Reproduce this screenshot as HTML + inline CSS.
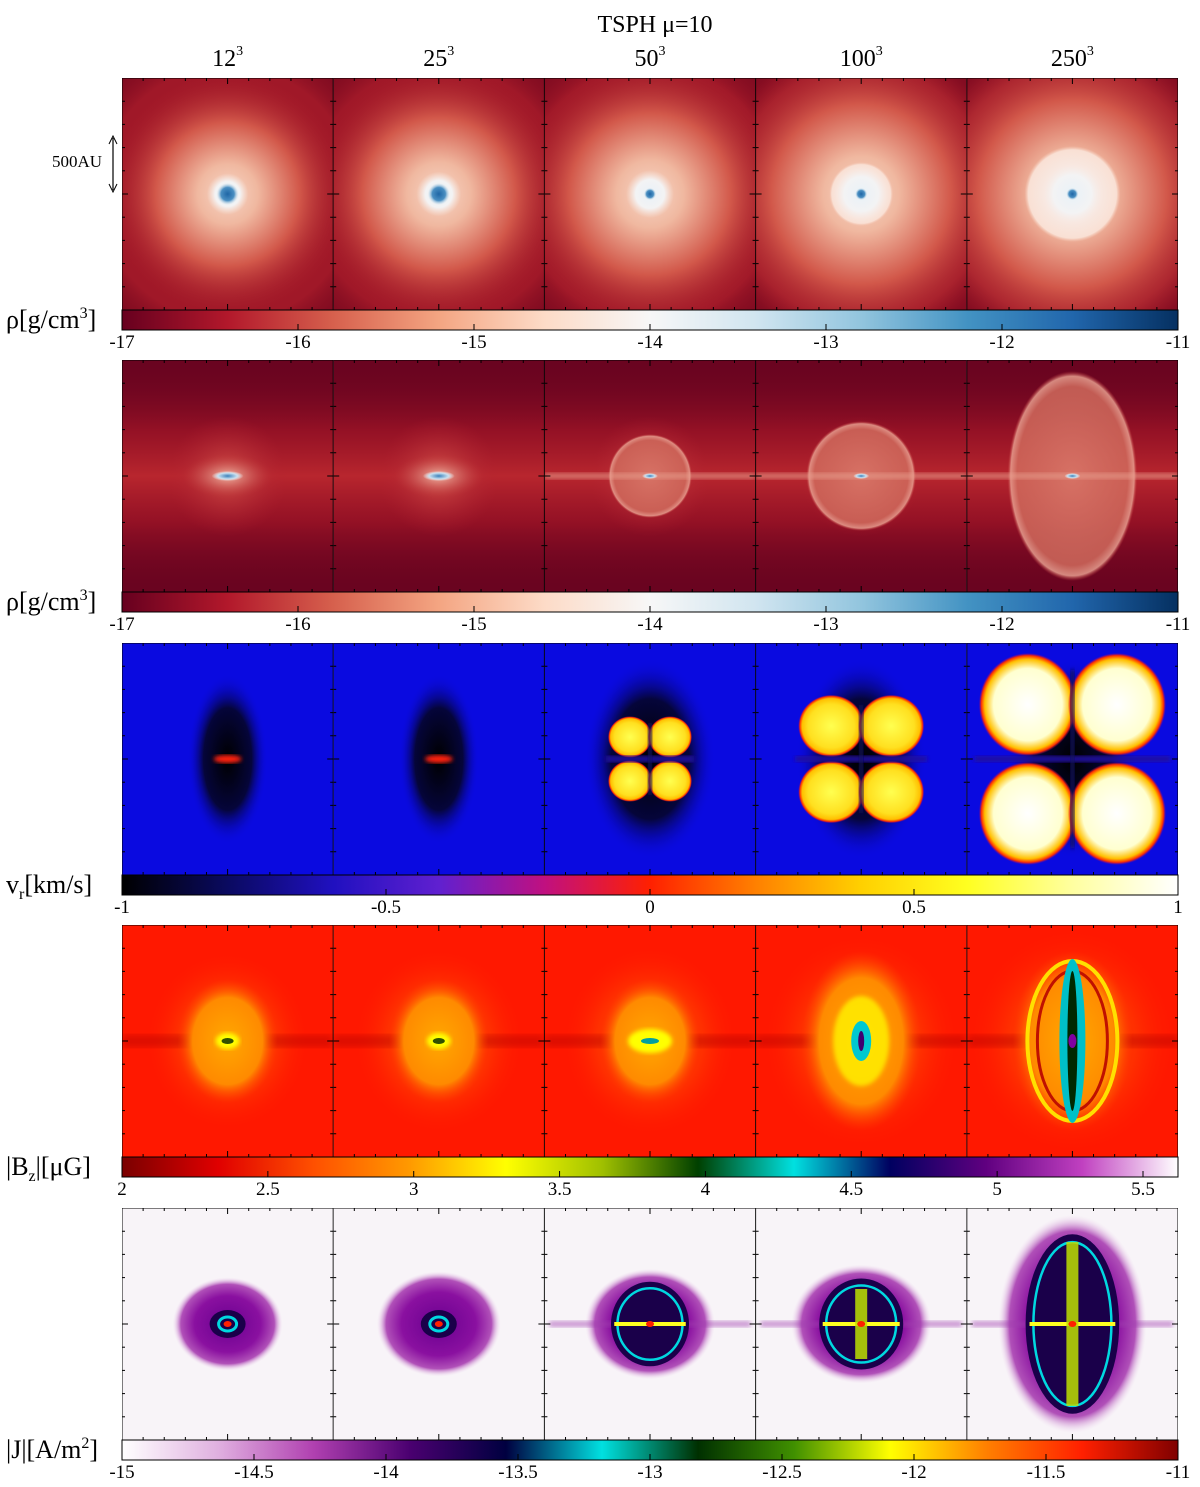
<!DOCTYPE html>
<html><head><meta charset="utf-8">
<style>
body{margin:0;background:#fff;}
svg text{font-family:"Liberation Serif",serif;fill:#000;}
</style></head>
<body>
<svg id="fig" width="1200" height="1482" xmlns="http://www.w3.org/2000/svg">
<defs>
<filter id="blur4"><feGaussianBlur stdDeviation="4"/></filter>
<filter id="blur2"><feGaussianBlur stdDeviation="2"/></filter>
<filter id="blur6"><feGaussianBlur stdDeviation="6"/></filter>
</defs>
<text x="655" y="32" font-size="24" text-anchor="middle">TSPH μ=10</text>
</svg>
<script>
const NS="http://www.w3.org/2000/svg";
const svg=document.getElementById('fig');
// data
const resolutions=["12","25","50","100","250"];
const rowMin=[-17,-17,-1,2,-15];
const rowMax=[-11,-11,1,5.62,-11];
const ticks0=[-17,-16,-15,-14,-13,-12,-11];
const ticks2=[-1,-0.5,0,0.5,1];
const ticks3=[2,2.5,3,3.5,4,4.5,5,5.5];
const ticks4=[-15,-14.5,-14,-13.5,-13,-12.5,-12,-11.5,-11];
const rowTicks=[ticks0,ticks0,ticks2,ticks3,ticks4];
// feature sizes per resolution (px)
const coreWhite=[13,14,15,18,20];
const diskR=[0,0,0,32,48];
const haloR=[80,85,90,100,105];
const lobeRx2=[0,0,42,55,65];
const lobeRy2=[0,0,42,55,105];
const lobeSize3=[0,0,40,60,66];
const bzSize=[75,78,80,90,95];
const jSize=[55,62,65,70,78];
const cmaps=[
 ["#67001f","#b2182b","#d6604d","#f4a582","#fddbc7","#f7f7f7","#d1e5f0","#92c5de","#4393c3","#2166ac","#053061"],
 null,
 ["#000000","#0a0a60","#2010c0","#6020d0","#c01080","#ff2000","#ff8000","#ffd000","#ffff20","#ffffa0","#ffffff"],
 ["#7a0000","#e00000","#ff5000","#ff9a00","#ffff00","#a0c000","#004000","#00e0e0","#000060","#600080","#c040c0","#ffffff"],
 ["#ffffff","#e0b0e0","#b040b0","#4a0070","#000040","#00e0e0","#003000","#409000","#ffff00","#ff8000","#ff2000","#800000"]
];
cmaps[1]=cmaps[0];

const X0=122,X1=1178,PW=(X1-X0)/5;
const rowY=[78,360,643,925,1208], PH=232;
const defs=svg.querySelector('defs');
let gid=0;
function el(tag,attrs,parent){const e=document.createElementNS(NS,tag);for(const k in attrs)e.setAttribute(k,attrs[k]);(parent||svg).appendChild(e);return e;}
function radial(stops){const id='g'+(gid++);const g=el('radialGradient',{id:id},defs);stops.forEach(s=>el('stop',{offset:s[0],'stop-color':s[1],'stop-opacity':s[2]===undefined?1:s[2]},g));return 'url(#'+id+')';}
function linear(stops,vertical){const id='g'+(gid++);const a=vertical?{id:id,x1:0,y1:0,x2:0,y2:1}:{id:id,x1:0,y1:0,x2:1,y2:0};const g=el('linearGradient',a,defs);stops.forEach(s=>el('stop',{offset:s[0],'stop-color':s[1],'stop-opacity':s[2]===undefined?1:s[2]},g));return 'url(#'+id+')';}
function ell(p,cx,cy,rx,ry,fill,extra){return el('ellipse',Object.assign({cx:cx,cy:cy,rx:rx,ry:ry,fill:fill},extra||{}),p);}

resolutions.forEach((r,i)=>{
 const t=el('text',{x:X0+PW*i+PW/2,y:66,'font-size':24,'text-anchor':'middle'});
 
 
 t.innerHTML=r+'<tspan font-size="14" dy="-11">3</tspan>';
});

for(let r=0;r<5;r++){
 const y0=rowY[r];
 const rowG=el('g',{});
 
 
 for(let c=0;c<5;c++){
  const x=X0+PW*c, cx=x+PW/2, cy=y0+PH/2;
  const g=el('g',{},rowG);
  
  
  const cid='clip'+r+c;const cp=el('clipPath',{id:cid},defs);el('rect',{x:x,y:y0,width:PW,height:PH},cp);
  g.setAttribute('clip-path','url(#'+cid+')');
  if(r===0){
   el('rect',{x:x,y:y0,width:PW,height:PH,fill:'#7e0a20'},g);
   ell(g,cx,cy,170,170,radial([[0,'#a81c2a'],[0.75,'#a01828'],[1,'#7e0a20',0]]));
   const h=haloR[c],R=h*1.5;
   ell(g,cx,cy,R,R,radial([[0,'#f6d6c6'],[0.25,'#f0b8a0'],[0.6,'#d2584a'],[1,'#a81c2a',0]]));
   if(diskR[c]) ell(g,cx,cy,diskR[c],diskR[c],radial([[0,'#f7f3f2'],[0.5,'#f8eae4'],[0.92,'#f9e0d4'],[1,'#f5c8b6',0]]));
   const w=coreWhite[c];
   ell(g,cx,cy,w*1.6,w*1.6,radial([[0,'#e8f1f7'],[0.6,'#f3f3f4'],[1,'#f8e6de',0]]));
   const cr=c<2?11:6;
   ell(g,cx,cy,cr,cr,radial([[0,'#1f66a6'],[0.6,'#4a8fc2'],[1,'#bcd8ea',0]]));
  }else if(r===1){
   el('rect',{x:x,y:y0,width:PW,height:PH,fill:'#6a0420'},g);
   el('rect',{x:x,y:y0,width:PW,height:PH,fill:linear([[0,'#6a0420',0],[0.3,'#9e1426',0.8],[0.5,'#b8262e'],[0.7,'#9e1426',0.8],[1,'#6a0420',0]],true)},g);
   ell(g,cx,cy,60,60,radial([[0,'#d05048'],[1,'#b02030',0]]));
   if(c>=2){
    ell(g,cx,cy,lobeRx2[c],lobeRy2[c],radial([[0,'#d8786a'],[0.85,'#d06a5c'],[0.95,'#e8a090'],[1,'#c03838',0]]),{opacity:0.85});
    el('rect',{x:x,y:cy-3,width:PW,height:6,fill:'#e8a090',opacity:0.6,filter:'url(#blur2)'},g);
   } else ell(g,cx,cy,45,22,radial([[0,'#f0b8a8'],[1,'#c03838',0]]));
   ell(g,cx,cy,c<2?16:8,c<2?5:3,radial([[0,'#3b80ba'],[0.6,'#c8e0f0'],[1,'#f7f7f7',0]]));
  }else if(r===2){
   el('rect',{x:x,y:y0,width:PW,height:PH,fill:'#0a0ae0'},g);
   ell(g,cx,cy,c<2?40:65,c<2?85:100,radial([[0,'#000000'],[0.6,'#05053a'],[1,'#0a0ae0',0]]));
   const s=lobeSize3[c];
   if(c<2){ell(g,cx,cy,14,4,'#ff2010',{filter:'url(#blur2)'});}
   else{
    const k=c===4?1.5:1, kx=c===4?1.35:1;
    [[-1,-1],[1,-1],[-1,1],[1,1]].forEach(d=>{
     ell(g,cx+d[0]*s*0.5*kx,cy+d[1]*s*0.55*k,s*0.55*kx,s*0.52*k,radial([[0,c===4?'#ffffff':'#ffff50'],[0.7,c===4?'#ffffd0':'#ffe020'],[0.88,'#ffc000'],[0.95,'#ff3000'],[1,'#c00060',0]]));
    });
    el('rect',{x:cx-s*1.1*kx,y:cy-3,width:s*2.2*kx,height:6,fill:'#2010a0',filter:'url(#blur2)'},g);
    el('rect',{x:cx-2,y:cy-s*0.9*k,width:4,height:s*1.8*k,fill:'#101060',filter:'url(#blur2)'},g);
   }
  }else if(r===3){
   el('rect',{x:x,y:y0,width:PW,height:PH,fill:'#ff1800'},g);
   ell(g,cx,cy,bzSize[c]*1.1,bzSize[c]*1.2,radial([[0,'#ff4a00'],[0.6,'#ff3000'],[1,'#ff1800',0]]));
   el('rect',{x:x,y:cy-6,width:PW,height:12,fill:'#b00000',opacity:0.45,filter:'url(#blur4)'},g);
   ell(g,cx,cy,c<3?50:60,c<3?62:90,radial([[0,'#ffa800'],[0.7,'#ff8a00'],[1,'#ff4000',0]]));
   if(c<2){ell(g,cx,cy,12,8,'#ffff00',{filter:'url(#blur2)'});ell(g,cx,cy,6,3,'#305000');}
   else if(c===2){ell(g,cx,cy,22,12,'#ffff00',{filter:'url(#blur2)'});ell(g,cx,cy,9,3,'#00a0a0');}
   else if(c===3){ell(g,cx,cy,28,45,'#ffee00',{filter:'url(#blur2)',opacity:0.85});ell(g,cx,cy,10,20,'#00c8d0');ell(g,cx,cy,3,10,'#400070');}
   else{ell(g,cx,cy,45,80,'none',{stroke:'#ffe000','stroke-width':4});ell(g,cx,cy,35,70,'none',{stroke:'#c01000','stroke-width':3});ell(g,cx,cy,13,82,'#00c0c8');ell(g,cx,cy,5,70,'#002800');ell(g,cx,cy,4,7,'#8000a0');}
  }else{
   el('rect',{x:x,y:y0,width:PW,height:PH,fill:'#f8f4f8'},g);
   const s=jSize[c];
   ell(g,cx,cy,s*(c===4?0.95:1),s*(c===4?1.4:0.85),radial([[0,'#6a0090'],[0.6,'#8a10a0'],[0.85,'#b050b8'],[1,'#f0d8f0',0]]));
   if(c>=2) el('rect',{x:x+5,y:cy-3,width:PW-10,height:6,fill:'#a040b0',opacity:0.5,filter:'url(#blur2)'},g);
   ell(g,cx,cy,c<2?18:s*0.6,c<2?14:s*(c===4?1.15:0.65),'#1a004a');
   ell(g,cx,cy,c<2?9:s*0.5,c<2?7:s*(c===4?1.05:0.55),'none',{stroke:'#00d8e0','stroke-width':c<2?3:2.5});
   if(c>=2) el('rect',{x:cx-s*0.55,y:cy-2,width:s*1.1,height:4,fill:'#ffff20'},g);
   if(c>=3) el('rect',{x:cx-6,y:cy-s*(c===4?1.05:0.5),width:12,height:s*(c===4?2.1:1),fill:'#c0e000',opacity:0.85},g);
   ell(g,cx,cy,4,3,'#ff2000');
  }
  el('rect',{x:x,y:y0,width:PW,height:PH,fill:'none',stroke:'#000','stroke-width':1},g);
  for(let k=1;k<10;k++){const ty=y0+PH*k/10;el('line',{x1:x,x2:x+(k%5?3:6),y1:ty,y2:ty,stroke:'#000'},g);el('line',{x1:x+PW,x2:x+PW-(k%5?3:6),y1:ty,y2:ty,stroke:'#000'},g);
   const tx=x+PW*k/10;el('line',{x1:tx,x2:tx,y1:y0,y2:y0+(k%5?3:6),stroke:'#000'},g);el('line',{x1:tx,x2:tx,y1:y0+PH,y2:y0+PH-(k%5?3:6),stroke:'#000'},g);}
 }
 const cb=cmaps[r];
 const cbY=y0+PH;
 const bar=el('rect',{x:X0,y:cbY,width:X1-X0,height:20,stroke:'#000','stroke-width':1,fill:linear(cb.map((c,i)=>[i/(cb.length-1),c]),false)});
 
 
 const ax=v=>X0+(v-rowMin[r])/(rowMax[r]-rowMin[r])*(X1-X0);
 rowTicks[r].forEach(v=>{
  const t=el('text',{x:ax(v),y:cbY+38,'font-size':19,'text-anchor':'middle'});
  
  
  t.textContent=String(v);
  el('line',{x1:ax(v),x2:ax(v),y1:cbY+20,y2:cbY+14,stroke:'#000'});
 });
 const lab=el('text',{x:6,y:cbY+18,'font-size':26});
 
 
 if(r<2) lab.innerHTML='ρ[g/cm<tspan font-size="16" dy="-10">3</tspan><tspan dy="10">]</tspan>';
 else if(r===2) lab.innerHTML='v<tspan font-size="16" dy="6">r</tspan><tspan dy="-6">[km/s]</tspan>';
 else if(r===3) lab.innerHTML='|B<tspan font-size="16" dy="6">z</tspan><tspan dy="-6">|[μG]</tspan>';
 else lab.innerHTML='|J|[A/m<tspan font-size="16" dy="-10">2</tspan><tspan dy="10">]</tspan>';
}
const sb=el('g',{});


el('line',{x1:113,x2:113,y1:138,y2:190,stroke:'#000','stroke-width':1.2},sb);
el('path',{d:'M109,144 L113,136 L117,144 M109,184 L113,192 L117,184',stroke:'#000',fill:'none'},sb);
const st=el('text',{x:102,y:167,'font-size':17,'text-anchor':'end'},sb);st.textContent='500AU';
</script>
</body></html>
